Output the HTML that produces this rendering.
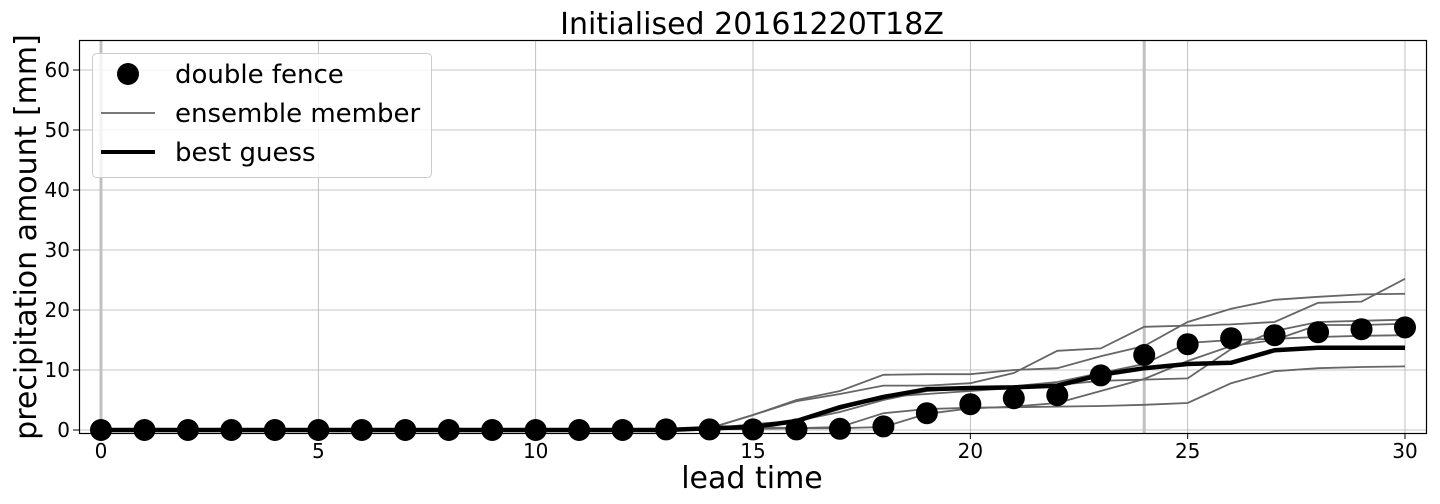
<!DOCTYPE html>
<html><head><meta charset="utf-8"><style>
html,body{margin:0;padding:0;background:#fff;}
svg{display:block;font-family:"DejaVu Sans","Liberation Sans",sans-serif;}
</style></head><body>
<svg id="chart" width="1440" height="504" viewBox="0 0 1440 504">
<g id="grid"></g>
<g id="series"></g>
<rect x="79.5" y="40.5" width="1347" height="393" fill="none" stroke="#000" stroke-width="1.2"/>
<g id="ticks"></g>
<text x="752" y="34" font-size="30" text-anchor="middle">Initialised 20161220T18Z</text>
<text x="752" y="488" font-size="30" text-anchor="middle">lead time</text>
<text transform="translate(36,237) rotate(-90)" font-size="30" text-anchor="middle">precipitation amount [mm]</text>
<g>
<rect x="92.5" y="53.5" width="339" height="124" rx="4" fill="#fff" fill-opacity="0.8" stroke="#ccc"/>
<circle cx="128" cy="74" r="11" fill="#000"/>
<text x="175" y="83" font-size="26">double fence</text>
<line x1="101" y1="113" x2="155" y2="113" stroke="#666" stroke-width="1.8"/>
<text x="175" y="122" font-size="26">ensemble member</text>
<line x1="101" y1="152" x2="155" y2="152" stroke="#000" stroke-width="4"/>
<text x="175" y="161" font-size="26">best guess</text>
</g>
</svg>
<script>
const leadTimes=[0,1,2,3,4,5,6,7,8,9,10,11,12,13,14,15,16,17,18,19,20,21,22,23,24,25,26,27,28,29,30];
const z14=[0,0,0,0,0,0,0,0,0,0,0,0,0,0];
const memberA=z14.concat([0.3,2.5,5,6.5,9.2,9.3,9.3,10,10.3,12.3,14,18,20.2,21.7,22.2,22.6,22.7]);
const memberB=z14.concat([0.3,2.5,4.8,6,7.4,7.4,7.8,9.5,13.2,13.6,17.2,17.4,17.6,18,21.2,21.4,25.2]);
const memberC=z14.concat([0.2,0.5,0.3,0.5,2.8,3.5,3.7,3.8,3.9,4.0,4.2,4.5,7.8,9.8,10.3,10.5,10.6]);
const memberD=z14.concat([0.1,0.2,0.3,0.3,0.5,2.7,3.6,3.9,4.5,6.5,8.5,11.5,14,15,17.5,17.5,17.7]);
const memberE=z14.concat([0.2,1,1.5,3.5,5.5,6,6.5,7,7.5,8.2,8.4,8.6,13.5,16.5,18,18.2,18.4]);
const memberF=z14.concat([0.2,0.8,1.5,3,5,6.5,7,7.3,8,9.5,11,14.5,15,15.2,15.5,15.7,15.8]);
const members=[memberA,memberB,memberC,memberD,memberE,memberF];
const bestGuess=z14.concat([0.3,0.5,1.5,3.8,5.5,6.8,7,7.1,7.4,9.2,10.3,11,11.2,13.3,13.7,13.7,13.7]);
const doubleFence=[0,0,0,0,0,0,0,0,0,0,0,0,0,0.1,0.1,0.1,0.1,0.2,0.6,2.8,4.3,5.3,5.8,9.1,12.5,14.3,15.3,15.8,16.3,16.8,17.1];
const xTicks=[0,5,10,15,20,25,30];
const yTicks=[0,10,20,30,40,50,60];
const markerLines=[0,24];

const NS="http://www.w3.org/2000/svg";
const X=v=>101+(v/30)*1304;
const Y=v=>430-v*6;
function mk(tag,attrs,parent){const e=document.createElementNS(NS,tag);for(const k in attrs)e.setAttribute(k,attrs[k]);parent.appendChild(e);return e;}
const grid=document.getElementById('grid'),ser=document.getElementById('series'),tk=document.getElementById('ticks');
xTicks.forEach(t=>{
 const l=mk('line',{x1:X(t),x2:X(t),y1:40,y2:433,stroke:'#b0b0b0','stroke-width':0.8},grid);
 
 
 const m=mk('line',{x1:X(t),x2:X(t),y1:433,y2:439,stroke:'#000','stroke-width':1},tk);
 
 
 const s=mk('text',{x:X(t),y:458,'font-size':20,'text-anchor':'middle'},tk);s.textContent=t;
 
 
});
yTicks.forEach(t=>{
 const l=mk('line',{x1:79,x2:1427,y1:Y(t),y2:Y(t),stroke:'#b0b0b0','stroke-width':0.8},grid);
 
 
 const m=mk('line',{x1:73,x2:79,y1:Y(t),y2:Y(t),stroke:'#000','stroke-width':1},tk);
 
 
 const s=mk('text',{x:70,y:Y(t)+7,'font-size':20,'text-anchor':'end'},tk);s.textContent=t;
 
 
});
markerLines.forEach(t=>{
 const l=mk('line',{x1:X(t),x2:X(t),y1:40,y2:433,stroke:'#c0c0c0','stroke-width':3},grid);
 
 
});
const pts=a=>a.map((v,i)=>X(leadTimes[i])+','+Y(v)).join(' ');
members.forEach(m=>{
 const p=mk('polyline',{points:pts(m),fill:'none',stroke:'#666','stroke-width':1.8},ser);
 
 
});
const b=mk('polyline',{points:pts(bestGuess),fill:'none',stroke:'#000','stroke-width':4.5},ser);


doubleFence.forEach((v,i)=>{
 const c=mk('circle',{cx:X(leadTimes[i]),cy:Y(v),r:11,fill:'#000'},ser);
 
 
});
</script>
</body></html>
